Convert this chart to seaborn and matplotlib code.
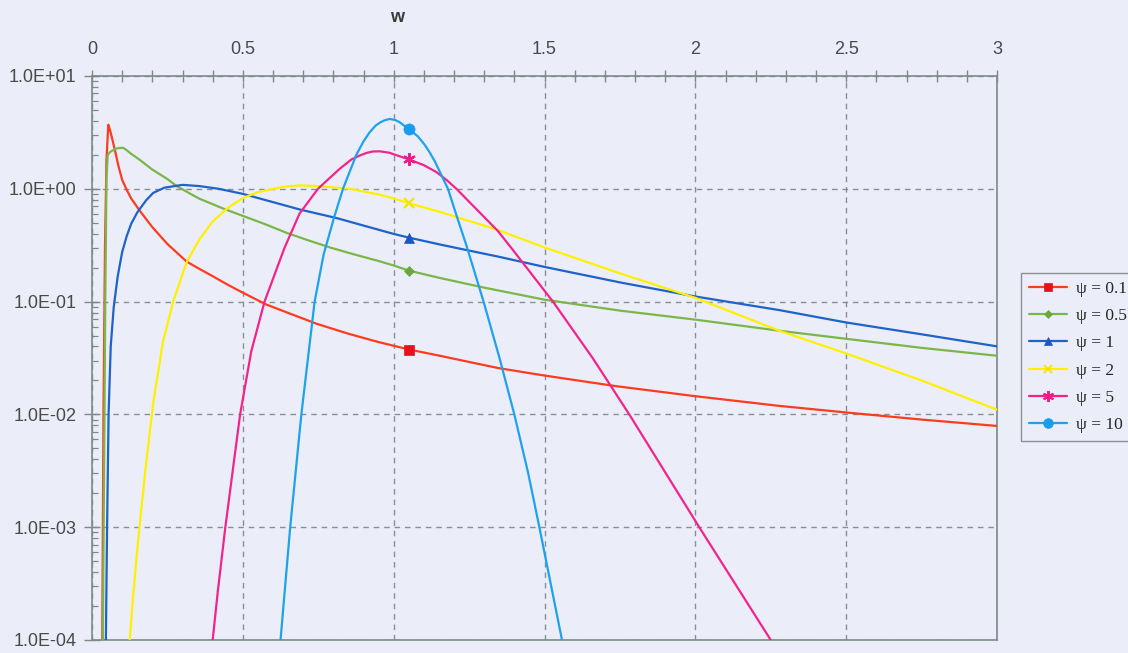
import numpy as np
import pandas as pd
import matplotlib
matplotlib.use("Agg")
import matplotlib.pyplot as plt
import seaborn as sns
from matplotlib.lines import Line2D
from matplotlib.ticker import LogLocator, MultipleLocator, FixedLocator, NullFormatter

# ---------------- data ----------------
psi_labels = ["ψ = 0.1", "ψ = 0.5", "ψ = 1", "ψ = 2", "ψ = 5", "ψ = 10"]

w_psi01 = [0.034, 0.038, 0.043, 0.048, 0.054, 0.060, 0.068, 0.076, 0.088, 0.100, 0.115, 0.13,
           0.16, 0.20, 0.25, 0.314, 0.356, 0.40, 0.45, 0.5, 0.577, 0.66, 0.743, 0.85, 0.951,
           1.051, 1.153, 1.345, 1.5, 1.737, 2.0, 2.278, 2.5, 2.75, 3.0]
f_psi01 = [1e-4, 0.01, 0.3, 1.8, 3.7, 3.3, 2.7, 2.2, 1.58, 1.2, 0.98, 0.82,
           0.63, 0.457, 0.324, 0.226, 0.195, 0.168, 0.141, 0.120, 0.0944, 0.0776, 0.0638, 0.0519,
           0.0437, 0.0376, 0.0331, 0.0258, 0.0221, 0.0178, 0.0145, 0.0119, 0.0104, 0.0090, 0.0079]

w_psi05 = [0.036, 0.040, 0.044, 0.048, 0.052, 0.06, 0.07, 0.08, 0.09, 0.103, 0.115, 0.13,
           0.159, 0.2, 0.25, 0.28, 0.33, 0.356, 0.435, 0.5, 0.57, 0.645, 0.72, 0.789, 0.854,
           0.95, 1.0, 1.051, 1.153, 1.3, 1.5, 1.75, 2.0, 2.278, 2.5, 2.75, 3.0]
f_psi05 = [1e-4, 0.0032, 0.1, 1.2, 2.0, 2.12, 2.2, 2.27, 2.3, 2.31, 2.2, 2.04,
           1.80, 1.48, 1.22, 1.06, 0.891, 0.817, 0.668, 0.575, 0.490, 0.407, 0.347, 0.302, 0.269,
           0.229, 0.209, 0.188, 0.162, 0.133, 0.104, 0.0832, 0.0692, 0.0552, 0.0468, 0.0389, 0.0331]

w_psi1 = [0.046, 0.050, 0.055, 0.062, 0.072, 0.085, 0.10, 0.115, 0.13, 0.15, 0.18, 0.203,
          0.24, 0.30, 0.356, 0.42, 0.5, 0.65, 0.688, 0.811, 1.0, 1.051, 1.153, 1.2, 1.345,
          1.5, 1.75, 2.0, 2.278, 2.5, 2.75, 3.0]
f_psi1 = [1e-4, 0.001, 0.01, 0.0398, 0.0891, 0.166, 0.275, 0.380, 0.490, 0.617, 0.794, 0.920,
          1.023, 1.084, 1.057, 1.0, 0.902, 0.700, 0.656, 0.550, 0.398, 0.369, 0.321, 0.302, 0.251,
          0.203, 0.148, 0.111, 0.0841, 0.0653, 0.0513, 0.0401]

w_psi2 = [0.125, 0.135, 0.15, 0.165, 0.18, 0.203, 0.235, 0.27, 0.314, 0.356, 0.40, 0.45,
          0.5, 0.55, 0.633, 0.688, 0.75, 0.854, 0.95, 1.0, 1.051, 1.153, 1.196, 1.34, 1.5,
          1.75, 2.0, 2.278, 2.5, 2.75, 3.0]
f_psi2 = [1e-4, 0.000224, 0.000631, 0.00158, 0.0038, 0.0126, 0.0437, 0.102, 0.224, 0.356,
          0.513, 0.676, 0.828, 0.933, 1.042, 1.072, 1.057, 1.0, 0.891, 0.822, 0.745, 0.624,
          0.575, 0.437, 0.302, 0.178, 0.108, 0.0552, 0.0347, 0.020, 0.011]

w_psi5 = [0.40, 0.417, 0.442, 0.491, 0.528, 0.572, 0.638, 0.688, 0.749, 0.821, 0.86, 0.887,
          0.91, 0.931, 0.955, 0.985, 1.051, 1.10, 1.141, 1.175, 1.208, 1.345, 1.39, 1.528,
          1.66, 1.781, 2.013, 2.25]
f_psi5 = [1e-4, 0.000269, 0.001, 0.01, 0.0363, 0.1, 0.299, 0.603, 1.0, 1.503, 1.82, 1.97,
          2.08, 2.143, 2.148, 2.089, 1.82, 1.62, 1.41, 1.20, 1.0, 0.424, 0.299, 0.1,
          0.0315, 0.01, 0.001, 1e-4]

w_psi10 = [0.625, 0.657, 0.694, 0.716, 0.738, 0.768, 0.804, 0.832, 0.876, 0.90, 0.92, 0.94,
           0.955, 0.97, 0.987, 1.005, 1.02, 1.051, 1.08, 1.103, 1.12, 1.136, 1.18, 1.21,
           1.241, 1.298, 1.351, 1.40, 1.445, 1.483, 1.558]
f_psi10 = [1e-4, 0.001, 0.01, 0.0316, 0.1, 0.263, 0.575, 1.0, 1.995, 2.63, 3.16, 3.63,
           3.87, 4.05, 4.16, 4.07, 3.89, 3.37, 2.92, 2.455, 2.09, 1.76, 1.0, 0.562,
           0.316, 0.1, 0.0315, 0.01, 0.00309, 0.001, 1e-4]

# single marked point on each curve
marker_w = [1.051, 1.051, 1.051, 1.051, 1.051, 1.051]
marker_f = [0.0376, 0.188, 0.369, 0.745, 1.82, 3.37]

x_ticks = [0, 0.5, 1, 1.5, 2, 2.5, 3]
x_tick_labels = ["0", "0.5", "1", "1.5", "2", "2.5", "3"]
y_ticks = [1e-4, 1e-3, 1e-2, 1e-1, 1e0, 1e1]
y_tick_labels = ["1.0E-04", "1.0E-03", "1.0E-02", "1.0E-01", "1.0E+00", "1.0E+01"]

colors = ["#ff3b1f", "#7ab648", "#1f62c9", "#fff000", "#f2248c", "#1ea2ee"]
marker_colors = ["#e8101c", "#6aa83c", "#1a56c0", "#f5e600", "#ee1c86", "#1a9cec"]
markers = ["s", "D", "^", "x", (6, 2, 0), "o"]
marker_sizes = [7, 5, 7, 7, 9, 8]

# ---------------- long-form table ----------------
series = [(w_psi01, f_psi01), (w_psi05, f_psi05), (w_psi1, f_psi1),
          (w_psi2, f_psi2), (w_psi5, f_psi5), (w_psi10, f_psi10)]
frames = []
for lab, (w, f) in zip(psi_labels, series):
    frames.append(pd.DataFrame({"w": w, "f": f, "psi": lab}))
df = pd.concat(frames, ignore_index=True)
mk = pd.DataFrame({"w": marker_w, "f": marker_f, "psi": psi_labels})

# ---------------- style ----------------
bg = "#ebeef8"
sns.set_style("white")
plt.rcParams["font.family"] = ["Liberation Sans", "DejaVu Sans"]

fig = plt.figure(figsize=(11.28, 6.53), dpi=100, facecolor=bg)
ax = fig.add_axes([92 / 1128, 1 - 640 / 653, (997 - 92) / 1128, (640 - 76) / 653])
ax.set_facecolor(bg)

pal = dict(zip(psi_labels, colors))
sns.lineplot(data=df, x="w", y="f", hue="psi", palette=pal, sort=False,
             estimator=None, linewidth=1.6, legend=False, ax=ax, zorder=3)

for i, lab in enumerate(psi_labels):
    sub = mk[mk["psi"] == lab]
    m = markers[i]
    ax.plot(sub["w"], sub["f"], linestyle="none", marker=m, markersize=marker_sizes[i],
            color=marker_colors[i], markeredgewidth=1.6 if m in ("x", (6, 2, 0)) else 0.5,
            markeredgecolor=marker_colors[i], zorder=4)

ax.set_yscale("log")
ax.set_xlim(0, 3)
ax.set_ylim(1e-4, 1e1)

# ticks
ax.xaxis.tick_top()
ax.xaxis.set_major_locator(FixedLocator(x_ticks))
ax.set_xticklabels(x_tick_labels)
ax.xaxis.set_minor_locator(MultipleLocator(0.1))
ax.yaxis.set_major_locator(FixedLocator(y_ticks))
ax.set_yticklabels(y_tick_labels)
ax.yaxis.set_minor_locator(LogLocator(base=10, subs=np.arange(2, 10)))
ax.yaxis.set_minor_formatter(NullFormatter())

tick_col = "#7d8a88"
ax.tick_params(axis="x", which="both", top=True, bottom=False, direction="inout",
               length=9, width=1.0, color=tick_col, labelsize=13, labelcolor="#4a4a4a", pad=8.5)
ax.tick_params(axis="y", which="major", left=True, direction="inout", length=12, width=1.0,
               color=tick_col, labelsize=13, labelcolor="#4a4a4a", pad=5)
ax.tick_params(axis="y", which="minor", left=True, direction="in", length=4, width=0.9,
               color=tick_col)

for s in ax.spines.values():
    s.set_visible(True)
    s.set_color(tick_col)
    s.set_linewidth(1.2)

ax.grid(True, which="major", color="#8a8f96", linestyle=(0, (4, 3.5)), linewidth=1.0, zorder=1)
ax.grid(False, which="minor")
ax.set_axisbelow(True)
ax.set_xlabel("")
ax.set_ylabel("")

fig.text(397 / 1128, 1 - 18 / 653, "w", ha="center", va="center", fontsize=13,
         fontweight="bold", color="#3a3a3a")

# legend
handles = [Line2D([0], [0], color=colors[i], linewidth=1.6, marker=markers[i],
                  markersize=marker_sizes[i] - 1, markerfacecolor=marker_colors[i],
                  markeredgecolor=marker_colors[i],
                  markeredgewidth=1.4 if markers[i] in ("x", (6, 2, 0)) else 0.5)
           for i in range(len(psi_labels))]
leg = fig.legend(handles, psi_labels, loc="upper left",
                 bbox_to_anchor=(1021 / 1128, 1 - 273 / 653),
                 frameon=True, fancybox=False, framealpha=1, facecolor=bg,
                 edgecolor="#8c9090", handlelength=2.2, handletextpad=0.5,
                 labelspacing=0.64, borderpad=0.45, borderaxespad=0,
                 prop={"family": ["Liberation Serif", "DejaVu Serif"], "size": 12.5})
leg.get_frame().set_linewidth(1.0)

fig.savefig("out.png", dpi=100, facecolor=bg)
